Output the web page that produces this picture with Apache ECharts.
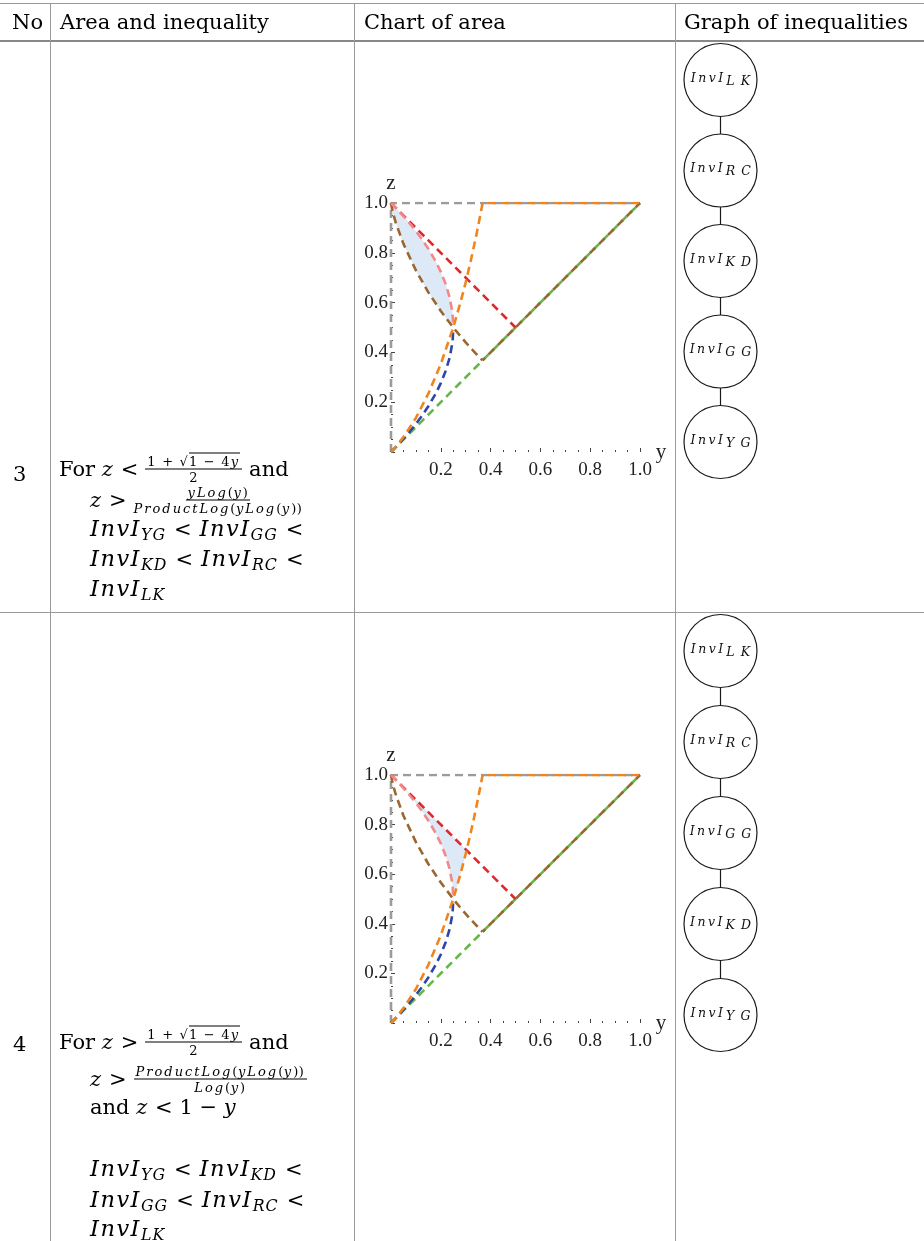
<!DOCTYPE html>
<html>
<head>
<meta charset="utf-8">
<script src="https://cdn.jsdelivr.net/npm/echarts@6/dist/echarts.min.js"></script>
<style>
body{margin:0;background:#fff}
#wrap{position:relative;width:924px;height:1241px;overflow:hidden;background:#fff}
#chart{position:absolute;left:0;top:0;width:924px;height:1241px;z-index:0}
.hl{position:absolute;left:0;width:924px;height:1px;background:#9a9a9a;z-index:1}
.vl{position:absolute;top:3px;width:1px;height:1238px;background:#9a9a9a;z-index:1}
.row{position:absolute;display:flex;align-items:center;transform:translateY(-50%);white-space:nowrap;
     font-family:'DejaVu Serif',serif;font-size:21px;line-height:1;color:#000;z-index:2}
.hd{font-size:21px}
.m{font-style:italic;letter-spacing:1.2px}
.big .m{font-size:22.5px;letter-spacing:1.5px}
.m sub{font-size:0.7em;vertical-align:-0.3em;letter-spacing:1px;line-height:0}
.op{margin:0 8px}
.frac{display:flex;flex-direction:column;align-items:center;font-size:13px;margin:0 7px}
.frac .n{border-bottom:1px solid #000;padding:0 2px 1px;line-height:1;letter-spacing:0.6px}
.frac .d{padding-top:1px;line-height:1;letter-spacing:0.6px}
.frac .m{letter-spacing:2px}
.frac .w{letter-spacing:1.2px}
.sq{border-top:1px solid #000}
</style>
</head>
<body>
<div id="wrap">
<div id="chart"></div>
<!-- table rules -->
<div class="hl" style="top:3px"></div>
<div class="hl" style="top:40px;height:2px;background:#888"></div>
<div class="hl" style="top:612px"></div>
<div class="vl" style="left:50px"></div>
<div class="vl" style="left:354px"></div>
<div class="vl" style="left:675px"></div>

<!-- header -->
<div class="row hd" style="left:12px;top:22px"><span>No</span></div>
<div class="row hd" style="left:60px;top:22px"><span>Area and inequality</span></div>
<div class="row hd" style="left:364px;top:22px"><span>Chart of area</span></div>
<div class="row hd" style="left:684px;top:22px"><span>Graph of inequalities</span></div>

<!-- row 3 -->
<div class="row" style="left:13px;top:474px"><span>3</span></div>
<div class="row" style="left:59px;top:469px"><span>For <span class="m">z</span> &lt;</span><span class="frac"><span class="n w">1 + √<span class="sq">1 − 4<span class="m">y</span></span></span><span class="d">2</span></span><span>and</span></div>
<div class="row" style="left:90px;top:500px"><span><span class="m">z</span> &gt;</span><span class="frac"><span class="n"><span class="m">yLog</span>(<span class="m">y</span>)</span><span class="d"><span class="m">ProductLog</span>(<span class="m">yLog</span>(<span class="m">y</span>))</span></span></div>
<div class="row big" style="left:90px;top:528px"><span><span class="m">InvI<sub>YG</sub></span><span class="op">&lt;</span><span class="m">InvI<sub>GG</sub></span><span class="op">&lt;</span></span></div>
<div class="row big" style="left:90px;top:558px"><span><span class="m">InvI<sub>KD</sub></span><span class="op">&lt;</span><span class="m">InvI<sub>RC</sub></span><span class="op">&lt;</span></span></div>
<div class="row big" style="left:90px;top:588px"><span><span class="m">InvI<sub>LK</sub></span></span></div>

<!-- row 4 -->
<div class="row" style="left:13px;top:1044px"><span>4</span></div>
<div class="row" style="left:59px;top:1042px"><span>For <span class="m">z</span> &gt;</span><span class="frac"><span class="n w">1 + √<span class="sq">1 − 4<span class="m">y</span></span></span><span class="d">2</span></span><span>and</span></div>
<div class="row" style="left:90px;top:1079px"><span><span class="m">z</span> &gt;</span><span class="frac"><span class="n"><span class="m">ProductLog</span>(<span class="m">yLog</span>(<span class="m">y</span>))</span><span class="d"><span class="m">Log</span>(<span class="m">y</span>)</span></span></div>
<div class="row" style="left:90px;top:1107px"><span>and <span class="m">z</span> &lt; 1 − <span class="m">y</span></span></div>
<div class="row big" style="left:90px;top:1168px"><span><span class="m">InvI<sub>YG</sub></span><span class="op">&lt;</span><span class="m">InvI<sub>KD</sub></span><span class="op">&lt;</span></span></div>
<div class="row big" style="left:90px;top:1199px"><span><span class="m">InvI<sub>GG</sub></span><span class="op">&lt;</span><span class="m">InvI<sub>RC</sub></span><span class="op">&lt;</span></span></div>
<div class="row big" style="left:90px;top:1228px"><span><span class="m">InvI<sub>LK</sub></span></span></div>
</div>

<script>
// ---------- data ----------
const tickLabels = [0.2, 0.4, 0.6, 0.8, 1.0];

const grayFrame = [[0,0],[0,1],[1,1]];
const greenLine = [[0,0],[1,1]];
const redLine = [[0,1],[0.5,0.5]];
const pinkCurve = [[0,1],[0.02,0.9796],[0.05,0.9472],[0.08,0.9123],[0.1,0.8873],[0.12,0.8606],[0.15,0.8162],[0.18,0.7646],[0.2,0.7236],[0.22,0.6732],[0.235,0.6225],[0.245,0.5707],[0.248,0.5447],[0.25,0.5]];
const blueCurve = [[0,0],[0.02,0.0204],[0.05,0.0528],[0.08,0.0877],[0.1,0.1127],[0.12,0.1394],[0.15,0.1838],[0.18,0.2354],[0.2,0.2764],[0.22,0.3268],[0.235,0.3775],[0.245,0.4293],[0.248,0.4553],[0.25,0.5]];
const orangeCurve = [[0,0],[0.01,0.0105],[0.02,0.0218],[0.05,0.0598],[0.1,0.1371],[0.15,0.2344],[0.2,0.3532],[0.25,0.5],[0.28,0.604],[0.3,0.6815],[0.32,0.766],[0.34,0.8577],[0.36,0.958],[0.365,0.985],[0.3679,1],[1,1]];
const brownCurve = [[0,1],[0.001,0.9931],[0.005,0.9732],[0.01,0.9528],[0.02,0.9183],[0.05,0.8359],[0.1,0.7293],[0.15,0.6411],[0.2,0.5664],[0.25,0.5],[0.28,0.4635],[0.3,0.4402],[0.32,0.4177],[0.34,0.3964],[0.36,0.3758],[0.3679,0.3679],[1,1]];
const kneeY = 0.3679;                    // where orange / brown join the frame lines

const region4Corner = [0.303, 0.697];   // where red meets orange
const areaLabels = ['3', '4'];
const areaLabelPos = [[0.167, 0.698], [0.257, 0.666]];

const graphOrder3 = ['LK','RC','KD','GG','YG'];
const graphOrder4 = ['LK','RC','GG','KD','YG'];

// ---------- build ----------
const region3 = pinkCurve.concat(brownCurve.filter(p => p[0] <= 0.25).slice().reverse());
const region4 = [[0,1], region4Corner]
  .concat(orangeCurve.filter(p => p[0] >= 0.25 && p[0] < region4Corner[0]).slice().reverse())
  .concat(pinkCurve.slice().reverse());

const COLORS = {
  gray:'#9b9b9b', green:'#64b946', red:'#e0282c', pink:'#f2878c',
  blue:'#2f46a8', orange:'#f0841e', brown:'#9a6632', fill:'#dde9f6'
};
const serif = "'Liberation Serif', 'Times New Roman', serif";
const DASH = [8,5];

function chartAxisX(gi){
  return {
    type:'value', gridIndex:gi, min:0, max:1, interval:0.2,
    name:'y', nameLocation:'end', nameGap:12,
    nameTextStyle:{fontFamily:serif, fontSize:21, color:'#222', verticalAlign:'middle'},
    axisLine:{show:false},
    axisTick:{show:true, inside:true, length:4, lineStyle:{color:'#444', width:1}},
    minorTick:{show:true, splitNumber:4, length:2, lineStyle:{color:'#444', width:1}},
    splitLine:{show:false}, minorSplitLine:{show:false},
    axisLabel:{fontFamily:serif, fontSize:19, color:'#222', margin:9,
      formatter: v => v === 0 ? '' : v.toFixed(1)}
  };
}
function chartAxisY(gi){
  return {
    type:'value', gridIndex:gi, min:0, max:1, interval:0.2,
    name:'z', nameLocation:'end', nameGap:9,
    nameTextStyle:{fontFamily:serif, fontSize:21, color:'#222', align:'center'},
    axisLine:{show:false},
    axisTick:{show:true, inside:true, length:4, lineStyle:{color:'#444', width:1}},
    minorTick:{show:true, splitNumber:4, length:2, lineStyle:{color:'#444', width:1}},
    splitLine:{show:false}, minorSplitLine:{show:false},
    axisLabel:{fontFamily:serif, fontSize:19, color:'#222', margin:3,
      formatter: v => v === 0 ? '' : v.toFixed(1)}
  };
}
function hiddenX(gi){ return {type:'value', gridIndex:gi, min:0, max:1, show:false}; }
function hiddenY(gi){ return {type:'value', gridIndex:gi, min:0, max:4, inverse:true, show:false}; }

function dashed(gi, data, color, z, offset){
  return {
    type:'line', xAxisIndex:gi, yAxisIndex:gi, data:data, symbol:'none',
    lineStyle:{color:color, width:2.6, type:DASH, dashOffset:offset || 0, cap:'butt'},
    z:z || 3, silent:true, animation:false
  };
}
function chartSeries(gi, region, label, labelPos){
  return [
    {
      type:'custom', xAxisIndex:gi, yAxisIndex:gi, data:[[0,0]], z:1, silent:true,
      renderItem:(params, api) => ({
        type:'polygon',
        shape:{points: region.map(p => api.coord(p))},
        style:{fill:COLORS.fill}
      })
    },
    dashed(gi, grayFrame, COLORS.gray, 2),
    dashed(gi, greenLine, COLORS.green, 3),
    dashed(gi, brownCurve.filter(p => p[0] <= kneeY), COLORS.brown, 4),
    dashed(gi, brownCurve.filter(p => p[0] >= kneeY), COLORS.brown, 4, 4.5),
    dashed(gi, redLine, COLORS.red, 4),
    dashed(gi, blueCurve, COLORS.blue, 4),
    dashed(gi, pinkCurve, COLORS.pink, 5),
    dashed(gi, orangeCurve.filter(p => p[0] <= kneeY), COLORS.orange, 5),
    dashed(gi, orangeCurve.filter(p => p[0] >= kneeY), COLORS.orange, 5, 7.6),
    {
      type:'scatter', xAxisIndex:gi, yAxisIndex:gi, data:[labelPos], symbolSize:1,
      itemStyle:{opacity:0}, z:6, silent:true,
      label:{show:true, position:'inside', formatter:label, fontFamily:serif, fontSize:19, color:'#222'}
    }
  ];
}
function graphSeries(gi, order){
  return {
    type:'graph', coordinateSystem:'cartesian2d', xAxisIndex:gi, yAxisIndex:gi,
    symbol:'circle', symbolSize:73, silent:true,
    data: order.map((k, i) => ({name:k, value:[0.5, i]})),
    links: order.slice(1).map((k, i) => ({source:order[i], target:k})),
    itemStyle:{color:'#fff', borderColor:'#1a1a1a', borderWidth:1.2},
    lineStyle:{color:'#1a1a1a', width:1.2, opacity:1, curveness:0},
    label:{
      show:true, position:'inside',
      formatter: p => '{a|I\u2009n\u2009v\u2009I}{b|' + p.name.split('').join('\u2002') + '}',
      rich:{
        a:{fontFamily:'DejaVu Serif', fontStyle:'italic', fontSize:12.5, color:'#111', verticalAlign:'top', lineHeight:16},
        b:{fontFamily:'DejaVu Serif', fontStyle:'italic', fontSize:12.5, color:'#111', verticalAlign:'bottom', lineHeight:16, padding:[8,0,0,3]}
      }
    },
    emphasis:{disabled:true}
  };
}

const chart = echarts.init(document.getElementById('chart'), null, {renderer:'canvas'});
chart.setOption({
  animation:false,
  backgroundColor:'transparent',
  grid:[
    {left:391, top:203, width:249, height:249},
    {left:391, top:775, width:249, height:248},
    {left:680, top:80, width:81, height:362},
    {left:680, top:651, width:81, height:364}
  ],
  xAxis:[chartAxisX(0), chartAxisX(1), hiddenX(2), hiddenX(3)],
  yAxis:[chartAxisY(0), chartAxisY(1), hiddenY(2), hiddenY(3)],
  series:[].concat(
    chartSeries(0, region3, areaLabels[0], areaLabelPos[0]),
    chartSeries(1, region4, areaLabels[1], areaLabelPos[1]),
    [graphSeries(2, graphOrder3), graphSeries(3, graphOrder4)]
  )
});
</script>
</body>
</html>
